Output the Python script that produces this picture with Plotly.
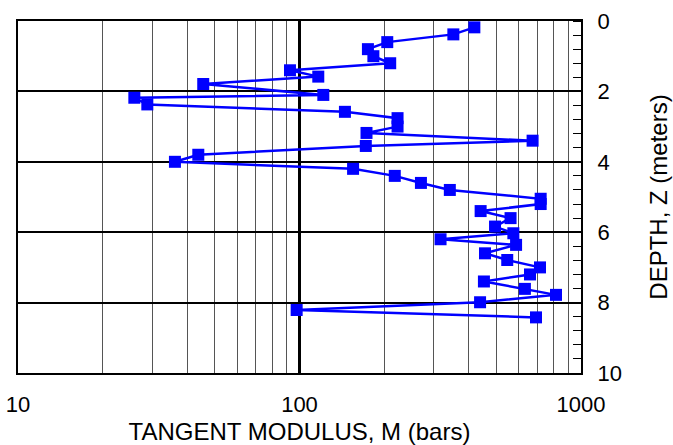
import plotly.graph_objects as go

# Data
depth_m = [0.18, 0.38, 0.6, 0.8, 1.0, 1.2, 1.4, 1.58, 1.79, 2.1, 2.18, 2.37, 2.58, 2.76,
           3.0, 3.18, 3.4, 3.55, 3.8, 4.0, 4.2, 4.4, 4.6, 4.8, 5.05, 5.2, 5.4, 5.6,
           5.84, 6.03, 6.2, 6.36, 6.6, 6.79, 7.0, 7.2, 7.4, 7.61, 7.78, 7.99, 8.21, 8.42]
modulus_bars = [418, 352, 205, 175, 183, 210, 92.5, 116.6, 45.5, 121.5, 25.9, 28.8, 145, 223,
                223, 173, 673, 172, 43.7, 36.1, 155, 218, 270, 342, 719, 719, 440, 562,
                495, 575, 317, 588, 456, 547, 715, 659, 452, 632, 815, 438, 97.7, 692]

x_major = [10, 100, 1000]
x_major_labels = ["10", "100", "1000"]
x_minor = [20, 30, 40, 50, 60, 70, 80, 90, 200, 300, 400, 500, 600, 700, 800, 900]
y_major = [0, 2, 4, 6, 8, 10]
y_major_labels = ["0", "2", "4", "6", "8", "10"]

FONT = "Liberation Sans, Arial, sans-serif"
BLUE = "#0000ff"

fig = go.Figure()
fig.add_trace(go.Scatter(
    x=modulus_bars, y=depth_m, mode="lines+markers",
    line=dict(color=BLUE, width=2.5),
    marker=dict(symbol="square", size=12, color=BLUE),
    showlegend=False, cliponaxis=False,
))

fig.update_layout(
    width=673, height=445,
    margin=dict(l=18, r=92, t=21, b=72),
    paper_bgcolor="white", plot_bgcolor="white",
    font=dict(family=FONT, color="black", size=22),
    xaxis=dict(
        type="log", range=[1, 3], automargin=False,
        tickmode="array", tickvals=x_major, ticktext=x_major_labels,
        ticks="", ticklabelstandoff=11, ticklabeloverflow="allow",
        showgrid=True, gridcolor="black", gridwidth=2.5,
        showline=True, linecolor="black", linewidth=2, mirror=True,
        zeroline=False,
        tickfont=dict(size=22, family=FONT),
        minor=dict(tickmode="array", tickvals=x_minor, showgrid=True,
                   gridcolor="#555555", gridwidth=1, ticks=""),
        title=dict(text="TANGENT MODULUS, M (bars)", font=dict(size=24, family=FONT), standoff=7),
    ),
    yaxis=dict(
        side="right", range=[10, 0], automargin=False,
        tickmode="array", tickvals=y_major, ticktext=y_major_labels,
        ticks="", ticklabelstandoff=10, ticklabeloverflow="allow",
        showgrid=True, gridcolor="black", gridwidth=1.5,
        showline=True, linecolor="black", linewidth=2, mirror=True,
        zeroline=False,
        tickfont=dict(size=22, family=FONT),
        minor=dict(dtick=0.4, tick0=0, ticks="inside", ticklen=8, tickcolor="black",
                   tickwidth=1, showgrid=False),
        title=dict(text="DEPTH, Z (meters)", font=dict(size=24, family=FONT), standoff=29),
    ),
)

# remove the browser's default 8px page margin so the figure fills the window exactly
fig.write_html("out.html", config={"displayModeBar": False},
               post_script="document.body.style.margin='0';")
